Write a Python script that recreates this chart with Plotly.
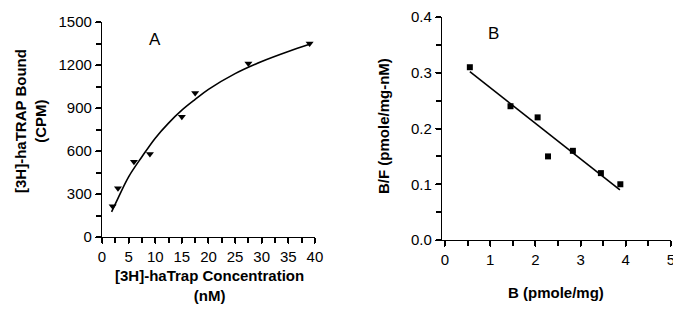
import plotly.graph_objects as go

# Panel A: saturation binding
conc_nM = [2, 3, 6, 9, 15, 17.5, 27.5, 39]
bound_cpm = [215, 340, 525, 580, 840, 1005, 1210, 1350]
fit_a_x = [1.8, 3, 5, 7.5, 10, 12.5, 15, 17.5, 20, 25, 30, 35, 39]
fit_a_y = [175, 270, 420, 560, 690, 795, 885, 960, 1030, 1140, 1225, 1295, 1345]
a_yticks = [0, 300, 600, 900, 1200, 1500]
a_xticks = [0, 5, 10, 15, 20, 25, 30, 35, 40]

# Panel B: Scatchard plot
b_pmole = [0.55, 1.45, 2.05, 2.28, 2.83, 3.45, 3.88]
bf_ratio = [0.31, 0.24, 0.22, 0.15, 0.16, 0.12, 0.10]
fit_b_x = [0.55, 3.87]
fit_b_y = [0.302, 0.09]
b_yticks = [0.0, 0.1, 0.2, 0.3, 0.4]
b_xticks = [0, 1, 2, 3, 4, 5]

# the page body has an 8px margin; the figure is sized so the page does not scroll,
# and positions (given in window pixels) are shifted to compensate
OFF = 8
W, H = 681 - OFF, 314 - 2 * OFF
FONT = "Liberation Sans, Arial, sans-serif"

def px(x):
    return (x - OFF) / W

def py(y):
    return 1 - (y - OFF) / H

fig = go.Figure()

fig.add_trace(go.Scatter(x=fit_a_x, y=fit_a_y, mode="lines", line=dict(color="black", width=1.6, shape="spline"),
                         xaxis="x", yaxis="y", showlegend=False))
fig.add_trace(go.Scatter(x=conc_nM, y=bound_cpm, mode="markers",
                         marker=dict(symbol="triangle-down", size=7, color="black"),
                         xaxis="x", yaxis="y", showlegend=False))
fig.add_trace(go.Scatter(x=fit_b_x, y=fit_b_y, mode="lines", line=dict(color="black", width=1.6),
                         xaxis="x2", yaxis="y2", showlegend=False))
fig.add_trace(go.Scatter(x=b_pmole, y=bf_ratio, mode="markers",
                         marker=dict(symbol="square", size=6, color="black"),
                         xaxis="x2", yaxis="y2", showlegend=False))

def minor(dt):
    return dict(ticks="outside", ticklen=5, tickwidth=1.5, tickcolor="black", tickmode="linear", tick0=0, dtick=dt)

axis_common = dict(showgrid=False, zeroline=False, showline=True, linecolor="black", linewidth=1.3,
                   ticks="outside", ticklen=6, tickwidth=1.4, tickcolor="black",
                   ticklabeloverflow="allow",
                   tickfont=dict(family=FONT, size=15, color="black"), automargin=False)

fig.update_layout(
    width=W, height=H, margin=dict(l=0, r=0, t=0, b=0),
    paper_bgcolor="white", plot_bgcolor="white",
    xaxis=dict(axis_common, domain=[px(102), px(315)], range=[0, 40.01], anchor="y",
               tickvals=a_xticks, minor=minor(2.5)),
    yaxis=dict(axis_common, domain=[py(237), py(22)], range=[0, 1500.5], anchor="x",
               tickvals=a_yticks, minor=minor(150)),
    xaxis2=dict(axis_common, domain=[px(442), px(671)], range=[-0.066, 5.001], anchor="y2",
                tickvals=b_xticks, minor=minor(0.5)),
    yaxis2=dict(axis_common, domain=[py(240), py(17)], range=[0, 0.4001], anchor="x2",
                tickvals=b_yticks, tickformat=".1f", minor=minor(0.05)),
    annotations=[
        dict(text="A", x=px(155), y=py(40), xref="paper", yref="paper", showarrow=False,
             xanchor="center", yanchor="middle", font=dict(family=FONT, size=17, color="black")),
        dict(text="B", x=px(493), y=py(34), xref="paper", yref="paper", showarrow=False,
             xanchor="center", yanchor="middle", font=dict(family=FONT, size=17, color="black")),
        dict(text="<b>[3H]-haTRAP Bound</b><br><b>(CPM)</b>", x=px(31), y=py(121), xref="paper", yref="paper",
             showarrow=False, textangle=-90, xanchor="center", yanchor="middle",
             font=dict(family=FONT, size=15, color="black")),
        dict(text="<b>[3H]-haTrap Concentration</b><br><b>(nM)</b>", x=px(209), y=py(285), xref="paper", yref="paper",
             showarrow=False, xanchor="center", yanchor="middle",
             font=dict(family=FONT, size=15, color="black")),
        dict(text="<b>B (pmole/mg)</b>", x=px(556), y=py(292), xref="paper", yref="paper",
             showarrow=False, xanchor="center", yanchor="middle",
             font=dict(family=FONT, size=15, color="black")),
        dict(text="<b>B/F (pmole/mg-nM)</b>", x=px(383), y=py(126), xref="paper", yref="paper",
             showarrow=False, textangle=-90, xanchor="center", yanchor="middle",
             font=dict(family=FONT, size=15, color="black")),
    ],
)

fig.write_html("out.html")
